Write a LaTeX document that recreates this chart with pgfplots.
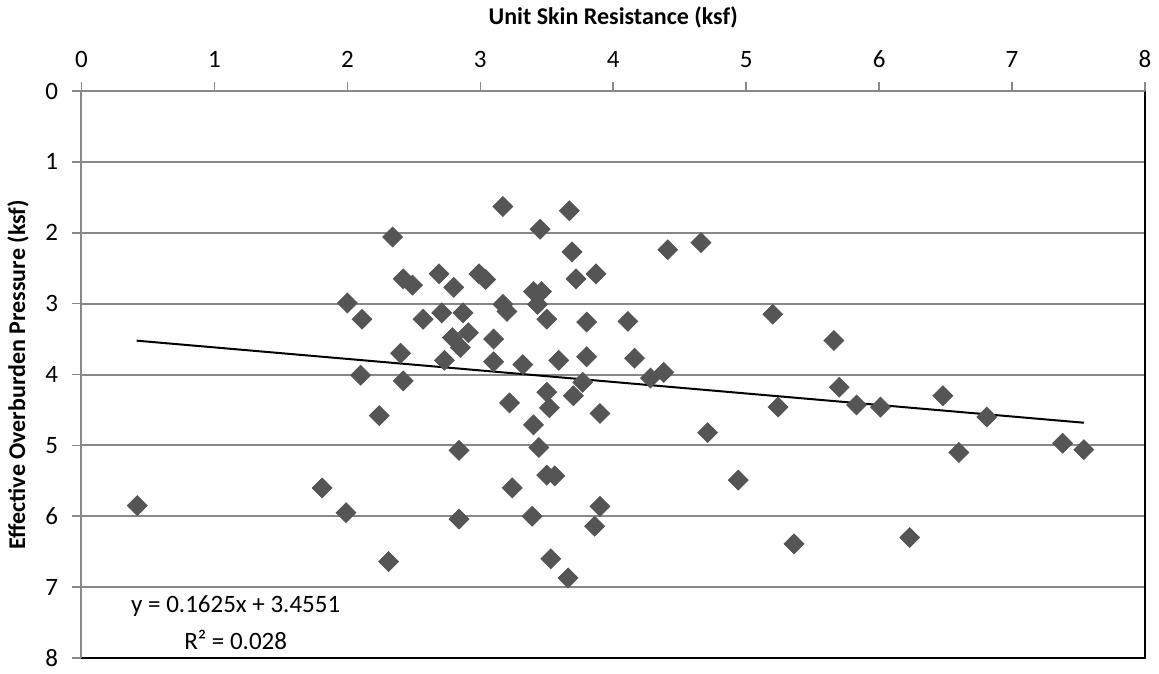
\documentclass[border=0pt]{standalone}
\usepackage{pgfplots}
\pgfplotsset{compat=1.18}
\usepackage{fontspec}
\setmainfont{Carlito}
\definecolor{mk}{HTML}{555555}
\definecolor{grd}{HTML}{888888}
\begin{document}
\fontsize{12}{14}\selectfont
\begin{tikzpicture}
\path[use as bounding box] (-40.75pt,-7.5pt) rectangle (538.75pt,329pt);
\begin{axis}[
  scale only axis,
  width=531.75pt, height=283.5pt,
  xmin=0, xmax=8, ymin=0, ymax=8,
  y dir=reverse,
  xtick={0,...,8}, ytick={0,...,8},
  xtick pos=upper, xticklabel pos=upper,
  ytick pos=left,
  tick align=outside,
  major tick length=4.5pt,
  tick style={grd, line width=0.8pt},
  ymajorgrids,
  grid style={grd, line width=1pt},
  axis line style={grd, line width=1pt},
  /pgf/number format/assume math mode=true,
  ticklabel style={font=\fontsize{12.5}{14}\selectfont},
  xticklabel style={yshift=3pt},
  yticklabel style={xshift=-3pt},
  xlabel={\bfseries Unit Skin Resistance (ksf)},
  ylabel={\bfseries Effective Overburden Pressure (ksf)},
  label style={font=\fontsize{12}{14}\selectfont},
  xlabel style={at={(axis description cs:0.5,1.1305)}, anchor=center},
  ylabel style={at={(axis description cs:-0.0597,0.5)}, anchor=center, rotate=0},
  clip=false,
]
\addplot[only marks, mark=square*, mark size=3.5pt, mark options={rotate=45, fill=mk, draw=mk}]
coordinates {
(0.42,5.85) (1.81,5.60) (1.99,5.95) (2.24,4.58) (2.31,6.64)
(3.17,1.63) (3.67,1.69) (3.45,1.95) (2.34,2.06) (3.69,2.27)
(4.41,2.24) (4.66,2.14) (2.42,2.65) (2.49,2.74) (2.69,2.58)
(2.80,2.77) (2.99,2.58) (3.04,2.66) (3.72,2.65) (3.87,2.58)
(3.40,2.83) (3.46,2.83) (3.43,3.01) (2.00,2.99) (2.11,3.22)
(2.57,3.22) (2.71,3.13) (2.87,3.13) (3.17,3.01) (3.20,3.11)
(3.50,3.22) (3.80,3.26) (4.11,3.25) (2.91,3.41) (2.79,3.48)
(2.85,3.62) (3.10,3.50) (2.40,3.70) (2.73,3.80) (3.10,3.82)
(3.32,3.86) (3.59,3.80) (3.80,3.75) (4.16,3.77) (4.38,3.97)
(4.28,4.05) (2.10,4.01) (2.42,4.09) (3.77,4.11) (3.70,4.30)
(3.50,4.25) (3.22,4.40) (3.52,4.47) (3.90,4.55) (3.40,4.71)
(2.84,5.07) (3.44,5.03) (3.50,5.42) (3.56,5.43) (3.24,5.60)
(2.84,6.04) (3.39,6.00) (3.90,5.86) (3.86,6.14) (3.53,6.60)
(3.66,6.87) (5.20,3.15) (5.66,3.52) (5.70,4.18) (5.24,4.46)
(5.83,4.43) (6.01,4.46) (6.48,4.30) (6.81,4.60) (4.71,4.82)
(4.94,5.49) (5.36,6.39) (6.23,6.30) (6.60,5.10) (7.38,4.97)
(7.54,5.06)
};
\addplot[black, line width=1pt, no marks] coordinates {(0.415,3.5225) (7.54,4.6804)};
\draw[black, line width=1.3pt] (rel axis cs:0,0) -- (rel axis cs:1,0) -- (rel axis cs:1,1);
\draw[grd, line width=1pt] (rel axis cs:0,0) -- (rel axis cs:0,1) -- (rel axis cs:1,1);
\node[align=center, font=\fontsize{12.5}{14}\selectfont] at (axis cs:1.16,7.27) {y = 0.1625x + 3.4551};
\node[align=center, font=\fontsize{12.5}{14}\selectfont] at (axis cs:1.16,7.75) {R² = 0.028};
\end{axis}
\end{tikzpicture}
\end{document}
